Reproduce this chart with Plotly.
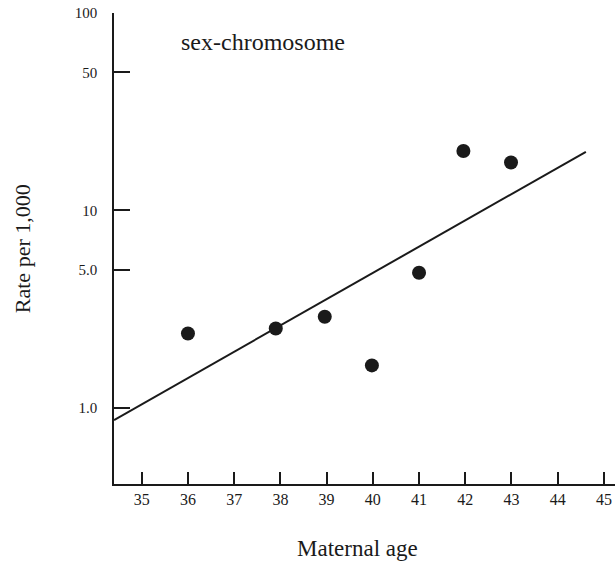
import plotly.graph_objects as go

# Data
maternal_age = [36.0, 37.9, 38.96, 39.98, 41.0, 41.96, 42.99]
rate_per_1000 = [2.38, 2.52, 2.89, 1.64, 4.83, 20.0, 17.5]

fit_age = [34.4, 44.61]
fit_rate = [0.867, 19.8]

x_ticks = [35, 36, 37, 38, 39, 40, 41, 42, 43, 44, 45]
y_tickvals = [1, 5, 10, 50, 100]
y_ticktext = ["1.0", "5.0", "10", "50", "100"]

FONT = "Liberation Serif, Times New Roman, serif"
INK = "#1a1a1a"

fig = go.Figure()
fig.add_trace(go.Scatter(x=fit_age, y=fit_rate, mode="lines",
                         line=dict(color=INK, width=2), showlegend=False,
                         hoverinfo="skip"))
fig.add_trace(go.Scatter(x=maternal_age, y=rate_per_1000, mode="markers",
                         marker=dict(color=INK, size=14), showlegend=False))

fig.update_layout(
    width=615, height=562,
    margin=dict(l=114, r=0, t=13, b=78),
    paper_bgcolor="white", plot_bgcolor="white",
    font=dict(family=FONT, color=INK, size=15),
    xaxis=dict(range=[34.4, 45.24], tickvals=x_ticks, ticks="inside",
               ticklen=12, tickwidth=1.5, tickcolor=INK,
               showline=True, linecolor=INK, linewidth=1.5,
               showgrid=False, zeroline=False,
               tickfont=dict(family=FONT, size=16, color=INK)),
    yaxis=dict(type="log", range=[-0.386, 2.0], tickvals=y_tickvals,
               ticktext=y_ticktext, ticks="inside", ticklen=16,
               tickwidth=1.5, tickcolor=INK,
               showline=True, linecolor=INK, linewidth=1.5,
               showgrid=False, zeroline=False, ticklabelstandoff=12,
               tickfont=dict(family=FONT, size=15, color=INK)),
    annotations=[
        dict(text="sex-chromosome", xref="paper", yref="paper",
             x=0.297, y=0.9385, xanchor="center", yanchor="middle",
             showarrow=False, font=dict(family=FONT, size=24, color=INK)),
        dict(text="Maternal age", xref="paper", yref="paper",
             x=0.487, y=-0.136, xanchor="center", yanchor="middle",
             showarrow=False, font=dict(family=FONT, size=23, color=INK)),
        dict(text="Rate per 1,000", xref="paper", yref="paper",
             x=-0.1836, y=0.4986, xanchor="center", yanchor="middle",
             textangle=-90, showarrow=False,
             font=dict(family=FONT, size=22, color=INK)),
    ],
)

fig.write_html(
    "out.html",
    config={"displayModeBar": False},
    post_script="document.body.style.margin='0';document.body.style.padding='0';"
                "document.documentElement.style.overflow='hidden';",
)
